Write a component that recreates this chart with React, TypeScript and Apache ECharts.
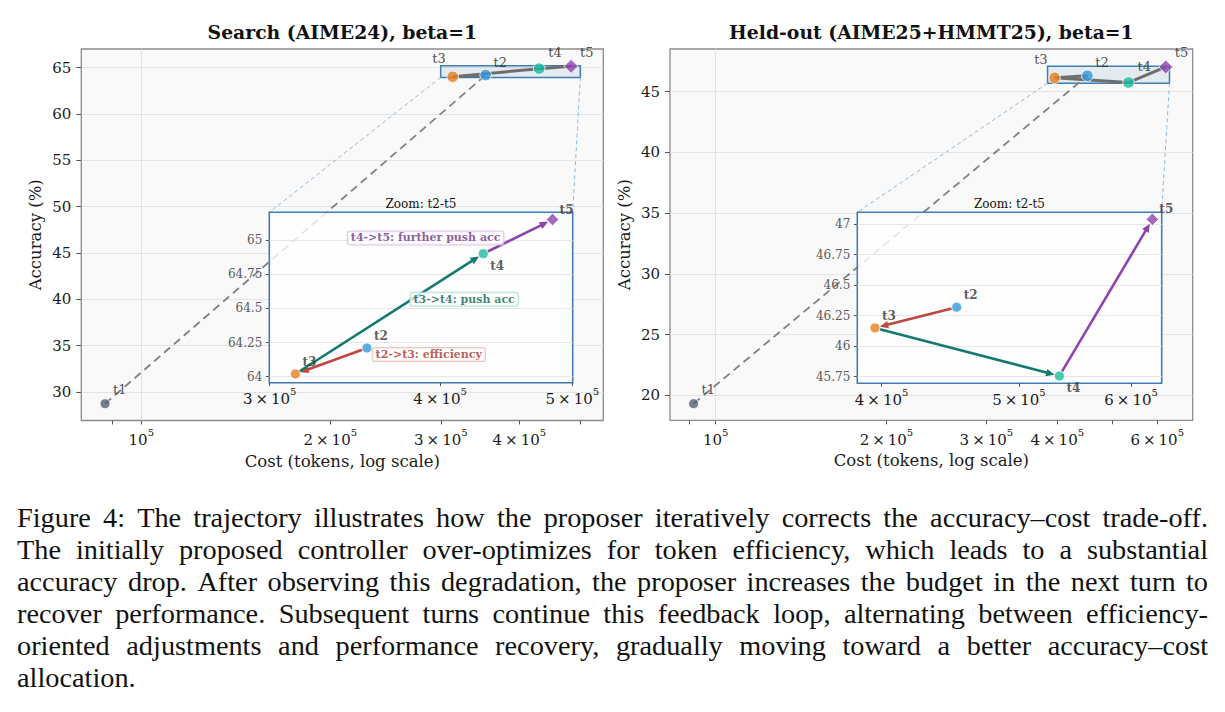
import { useEffect, useRef } from "react";
import * as echarts from "echarts";

const SERIF = "'DejaVu Serif', serif";
const CAPTION_SERIF = "'Liberation Serif', 'Times New Roman', serif";

// Trajectory steps and their marker colours
const STEPS = ["t1", "t2", "t3", "t4", "t5"];
const STEP_COLORS = ["#566173", "#3498db", "#e67e22", "#1abc9c", "#8e44ad"];

// Search split (AIME24): cost in tokens, accuracy in %
const SEARCH_COST = [87550, 353500, 313300, 430200, 483600];
const SEARCH_ACC = [28.74, 64.21, 64.02, 64.9, 65.15];

// Held-out split (AIME25+HMMT25)
const HELDOUT_COST = [91460, 451900, 395700, 534000, 621100];
const HELDOUT_ACC = [19.31, 46.32, 46.15, 45.756, 47.04];

// Main axes: limits and ticks
const SEARCH_COST_LIMITS = [80250, 544300];
const SEARCH_ACC_LIMITS = [26.93, 67.02];
const SEARCH_COST_TICKS = [90000, 100000, 200000, 300000, 400000, 500000];
const SEARCH_COST_TICK_LABELS = [100000, 200000, 300000, 400000];
const SEARCH_ACC_TICKS = [30, 35, 40, 45, 50, 55, 60, 65];

const HELDOUT_COST_LIMITS = [83100, 692900];
const HELDOUT_ACC_LIMITS = [17.94, 48.52];
const HELDOUT_COST_TICKS = [90000, 100000, 200000, 300000, 400000, 500000, 600000];
const HELDOUT_COST_TICK_LABELS = [100000, 200000, 300000, 400000, 600000];
const HELDOUT_ACC_TICKS = [20, 25, 30, 35, 40, 45];

// Zoom window t2-t5
const SEARCH_ZOOM_COST_LIMITS = [299800, 500300];
const SEARCH_ZOOM_ACC_LIMITS = [63.956, 65.203];
const SEARCH_ZOOM_COST_TICKS = [300000, 400000, 500000];
const SEARCH_ZOOM_ACC_TICKS = [64, 64.25, 64.5, 64.75, 65];

const HELDOUT_ZOOM_COST_LIMITS = [384500, 630600];
const HELDOUT_ZOOM_ACC_LIMITS = [45.696, 47.098];
const HELDOUT_ZOOM_COST_TICKS = [400000, 500000, 600000];
const HELDOUT_ZOOM_ACC_TICKS = [45.75, 46, 46.25, 46.5, 46.75, 47];

// Transitions drawn as arrows in the zoom window (from step, to step)
const MOVES = [[1, 2], [2, 3], [3, 4]];
const MOVE_COLORS = ["#c0473d", "#157a6e", "#8e44ad"];
const MOVE_NOTES = ["t2->t3: efficiency", "t3->t4: push acc", "t4->t5: further push acc"];
const MOVE_NOTE_COLORS = ["#a93226", "#0e6655", "#6c3483"];
const MOVE_NOTE_EDGES = ["#e8b4ae", "#a9d8cf", "#d4b8e0"];
// note anchors on the Search zoom window (cost, accuracy)
const SEARCH_NOTE_COST = [392400, 416500, 390300];
const SEARCH_NOTE_ACC = [64.163, 64.566, 65.015];

const CAPTION_LINES = [
  "Figure 4: The trajectory illustrates how the proposer iteratively corrects the accuracy\u2013cost trade-off.",
  "The initially proposed controller over-optimizes for token efficiency, which leads to a substantial",
  "accuracy drop. After observing this degradation, the proposer increases the budget in the next turn to",
  "recover performance. Subsequent turns continue this feedback loop, alternating between efficiency-",
  "oriented adjustments and performance recovery, gradually moving toward a better accuracy\u2013cost",
  "allocation.",
];

const PANELS = [
  {
    title: "Search (AIME24), beta=1",
    cost: SEARCH_COST, acc: SEARCH_ACC,
    costLimits: SEARCH_COST_LIMITS, accLimits: SEARCH_ACC_LIMITS,
    costTicks: SEARCH_COST_TICKS, costTickLabels: SEARCH_COST_TICK_LABELS, accTicks: SEARCH_ACC_TICKS,
    zoomCostLimits: SEARCH_ZOOM_COST_LIMITS, zoomAccLimits: SEARCH_ZOOM_ACC_LIMITS,
    zoomCostTicks: SEARCH_ZOOM_COST_TICKS, zoomAccTicks: SEARCH_ZOOM_ACC_TICKS,
    notes: true,
    main: { left: 81.3, top: 49, width: 522, height: 371.5 },
    zoom: { left: 269.3, top: 212.3, width: 303.4, height: 170.4 },
  },
  {
    title: "Held-out (AIME25+HMMT25), beta=1",
    cost: HELDOUT_COST, acc: HELDOUT_ACC,
    costLimits: HELDOUT_COST_LIMITS, accLimits: HELDOUT_ACC_LIMITS,
    costTicks: HELDOUT_COST_TICKS, costTickLabels: HELDOUT_COST_TICK_LABELS, accTicks: HELDOUT_ACC_TICKS,
    zoomCostLimits: HELDOUT_ZOOM_COST_LIMITS, zoomAccLimits: HELDOUT_ZOOM_ACC_LIMITS,
    zoomCostTicks: HELDOUT_ZOOM_COST_TICKS, zoomAccTicks: HELDOUT_ZOOM_ACC_TICKS,
    notes: false,
    main: { left: 670, top: 49, width: 522.7, height: 371.3 },
    zoom: { left: 857.3, top: 212.3, width: 304.4, height: 171 },
  },
];

// label placement of the step names (offset from the marker centre)
const MAIN_LABEL_PLACE: [string, number[]][] = [
  ["left", [8, -14]],
  ["left", [8, -13]],
  ["right", [-7, -18]],
  ["left", [9, -16]],
  ["left", [9, -14]],
];
const ZOOM_LABEL_PLACE: number[][] = [[7, -12], [7, -12], [7, -12], [7, 12], [7, -10]];

const lg = (v: number) => Math.log10(v);

function costLabel(v: number) {
  const exp = Math.floor(v + 1e-6);
  const m = Math.round(Math.pow(10, v - exp));
  return m === 1 ? `{b|10}{s|${exp}}` : `{b|${m}\u2009\u00d7\u200910}{s|${exp}}`;
}

const supRich = {
  b: { fontFamily: SERIF, fontSize: 15, color: "#1a1a1a", lineHeight: 20, verticalAlign: "bottom" },
  s: { fontFamily: SERIF, fontSize: 10, color: "#1a1a1a", lineHeight: 14, verticalAlign: "top" },
};

function renderArrow(params: any, api: any) {
  const a = api.coord([api.value(0), api.value(1)]);
  const b = api.coord([api.value(2), api.value(3)]);
  const color = api.visual("color");
  const dx = b[0] - a[0];
  const dy = b[1] - a[1];
  const len = Math.hypot(dx, dy) || 1;
  const ux = dx / len;
  const uy = dy / len;
  const shrinkA = 5, shrinkB = 5, head = 8.5, half = 3.8;
  const p0 = [a[0] + ux * shrinkA, a[1] + uy * shrinkA];
  const tip = [b[0] - ux * shrinkB, b[1] - uy * shrinkB];
  const base = [tip[0] - ux * head, tip[1] - uy * head];
  return {
    type: "group",
    children: [
      {
        type: "line",
        shape: { x1: p0[0], y1: p0[1], x2: base[0] + ux, y2: base[1] + uy },
        style: { stroke: color, lineWidth: 2.6 },
      },
      {
        type: "polygon",
        shape: {
          points: [
            tip,
            [base[0] - uy * half, base[1] + ux * half],
            [base[0] + uy * half, base[1] - ux * half],
          ],
        },
        style: { fill: color },
      },
    ],
  };
}

function buildOption() {
  const grid: any[] = [];
  const xAxis: any[] = [];
  const yAxis: any[] = [];
  const series: any[] = [];
  const hosts: { main: number; zoom: number }[] = [];

  PANELS.forEach((p) => {
    const gm = grid.length;
    const gz = gm + 1;
    grid.push({ ...p.main, show: true, backgroundColor: "#f9f9f9", borderColor: "#8c8c8c", borderWidth: 1.3, outerBoundsMode: "none" });
    grid.push({ ...p.zoom, show: false, outerBoundsMode: "none" });

    // main axes
    xAxis.push({
      type: "value", gridIndex: gm, min: lg(p.costLimits[0]), max: lg(p.costLimits[1]),
      name: "Cost (tokens, log scale)", nameLocation: "middle", nameGap: 32,
      nameTextStyle: { fontFamily: SERIF, fontSize: 16.5, color: "#1a1a1a" },
      axisLine: { show: false }, splitLine: { show: false },
      axisTick: { show: true, length: 4, lineStyle: { color: "#555", width: 1 }, customValues: p.costTicks.map(lg) },
      axisLabel: { margin: 7, formatter: costLabel, rich: supRich, customValues: p.costTickLabels.map(lg), showMinLabel: true, showMaxLabel: true },
      z: 0,
    });
    yAxis.push({
      type: "value", gridIndex: gm, min: p.accLimits[0], max: p.accLimits[1],
      name: "Accuracy (%)", nameLocation: "middle", nameGap: 37, nameRotate: 90,
      nameTextStyle: { fontFamily: SERIF, fontSize: 16.5, color: "#1a1a1a" },
      axisLine: { show: false },
      axisTick: { show: true, length: 5, lineStyle: { color: "#555", width: 1 }, customValues: p.accTicks },
      axisLabel: { margin: 10, fontFamily: SERIF, fontSize: 15, color: "#1a1a1a", customValues: p.accTicks, showMinLabel: true, showMaxLabel: true },
      splitLine: { show: true, lineStyle: { color: "#e4e4e4", width: 1 } },
      z: 0,
    });

    // zoom axes
    xAxis.push({
      type: "value", gridIndex: gz, min: lg(p.zoomCostLimits[0]), max: lg(p.zoomCostLimits[1]),
      axisLine: { show: false }, splitLine: { show: false },
      axisTick: { show: true, length: 3.5, lineStyle: { color: "#555", width: 1 }, customValues: p.zoomCostTicks.map(lg) },
      axisLabel: { margin: 4, formatter: costLabel, rich: supRich, customValues: p.zoomCostTicks.map(lg), showMinLabel: true, showMaxLabel: true },
      z: 4,
    });
    yAxis.push({
      type: "value", gridIndex: gz, min: p.zoomAccLimits[0], max: p.zoomAccLimits[1],
      axisLine: { show: false },
      axisTick: { show: true, length: 3.5, lineStyle: { color: "#555", width: 1 }, customValues: p.zoomAccTicks },
      axisLabel: { margin: 7, fontFamily: SERIF, fontSize: 12, color: "#5a5a5a", customValues: p.zoomAccTicks, showMinLabel: true, showMaxLabel: true },
      splitLine: { show: true, lineStyle: { color: "#e6e6e6", width: 1 } },
      z: 4,
    });

    const zx0 = lg(p.zoomCostLimits[0]);
    const zx1 = lg(p.zoomCostLimits[1]);
    const zy0 = p.zoomAccLimits[0];
    const zy1 = p.zoomAccLimits[1];

    // main: 10^5 gridline and the outline of the zoomed region
    const hostMain = series.length;
    series.push({
      type: "line", xAxisIndex: gm, yAxisIndex: gm, data: [], silent: true, z: 1,
      markLine: {
        silent: true, symbol: ["none", "none"], z: 1, label: { show: false },
        lineStyle: { color: "#e2e2e2", width: 1, type: "solid" },
        data: [{ xAxis: 5 }],
      },
      markArea: {
        silent: true, z: 1,
        itemStyle: { color: "rgba(70,130,180,0.12)", borderColor: "#3f7db3", borderWidth: 1.5 },
        data: [[{ xAxis: zx0, yAxis: zy0 }, { xAxis: zx1, yAxis: zy1 }]],
      },
    });

    // t1 -> t2 jump (dashed) and t2 .. t5 path (solid)
    series.push({
      type: "line", xAxisIndex: gm, yAxisIndex: gm, silent: true, z: 2, symbol: "none",
      data: p.cost.slice(0, 2).map((c, k) => [lg(c), p.acc[k]]),
      lineStyle: { color: "#828282", width: 1.8, type: [8, 5] },
    });
    series.push({
      type: "line", xAxisIndex: gm, yAxisIndex: gm, silent: true, z: 2, symbol: "none",
      data: p.cost.slice(1).map((c, k) => [lg(c), p.acc[k + 1]]),
      lineStyle: { color: "#6e6e6e", width: 3 },
    });
    series.push({
      type: "scatter", xAxisIndex: gm, yAxisIndex: gm, silent: true, z: 2,
      data: STEPS.map((s, k) => ({
        name: s,
        value: [lg(p.cost[k]), p.acc[k]],
        symbol: k === 4 ? "diamond" : "circle",
        symbolSize: k === 4 ? 14 : k === 0 ? 10 : 11.5,
        itemStyle: { color: STEP_COLORS[k], borderColor: "#ffffff", borderWidth: 1 },
        label: {
          show: true, position: "inside", formatter: "{b}",
          align: MAIN_LABEL_PLACE[k][0], verticalAlign: "middle", offset: MAIN_LABEL_PLACE[k][1],
          fontFamily: SERIF, fontSize: 13, color: "#222",
        },
      })),
    });

    // zoom window panel
    const hostZoom = series.length;
    series.push({
      type: "line", xAxisIndex: gz, yAxisIndex: gz, data: [], silent: true, z: 3,
      markArea: {
        silent: true, z: 3,
        itemStyle: { color: "rgba(255,255,255,0.8)", borderColor: "#3f7db3", borderWidth: 1.6 },
        data: [[{ xAxis: zx0, yAxis: zy0 }, { xAxis: zx1, yAxis: zy1 }]],
      },
    });

    // transitions
    series.push({
      type: "custom", xAxisIndex: gz, yAxisIndex: gz, silent: true, z: 5,
      encode: { x: [0, 2], y: [1, 3] },
      renderItem: renderArrow,
      data: MOVES.map(([f, t], k) => ({
        value: [lg(p.cost[f]), p.acc[f], lg(p.cost[t]), p.acc[t]],
        itemStyle: { color: MOVE_COLORS[k] },
      })),
    });

    series.push({
      type: "scatter", xAxisIndex: gz, yAxisIndex: gz, silent: true, z: 6,
      data: STEPS.map((s, k) => ({ s, k })).slice(1).map(({ s, k }) => ({
        name: s,
        value: [lg(p.cost[k]), p.acc[k]],
        symbol: k === 4 ? "diamond" : "circle",
        symbolSize: k === 4 ? 12.5 : 10,
        itemStyle: { color: STEP_COLORS[k], borderColor: "#ffffff", borderWidth: 1 },
        label: {
          show: true, position: "inside", formatter: "{b}",
          align: "left", verticalAlign: "middle", offset: ZOOM_LABEL_PLACE[k],
          fontFamily: SERIF, fontSize: 12, fontWeight: "bold", color: "#333",
        },
      })),
    });

    if (p.notes) {
      series.push({
        type: "scatter", xAxisIndex: gz, yAxisIndex: gz, silent: true, z: 7,
        symbolSize: 1,
        itemStyle: { color: "rgba(0,0,0,0)" },
        data: MOVE_NOTES.map((n, k) => ({
          name: n,
          value: [lg(SEARCH_NOTE_COST[k]), SEARCH_NOTE_ACC[k]],
          label: {
            show: true, position: "inside", formatter: "{b}",
            align: "center", verticalAlign: "middle",
            fontFamily: SERIF, fontSize: 11, fontWeight: "bold", color: MOVE_NOTE_COLORS[k],
            lineHeight: 12, padding: [1, 3, 0, 3],
            backgroundColor: "rgba(255,255,255,0.9)", borderColor: MOVE_NOTE_EDGES[k], borderWidth: 1, borderRadius: 2,
          },
        })),
      });
    }

    hosts.push({ main: hostMain, zoom: hostZoom });
  });

  return {
    option: {
      animation: false,
      backgroundColor: "#ffffff",
      textStyle: { fontFamily: SERIF },
      grid, xAxis, yAxis, series,
    },
    hosts,
  };
}

function captionGraphics() {
  const left = 17;
  const right = 1208;
  const top = 517;
  const lead = 32;
  const size = 28.3;
  const ctx = document.createElement("canvas").getContext("2d")!;
  ctx.font = `${size}px ${CAPTION_SERIF}`;
  const out: any[] = [];
  CAPTION_LINES.forEach((line, i) => {
    const words = line.split(" ");
    const widths = words.map((w) => ctx.measureText(w).width);
    const total = widths.reduce((s, w) => s + w, 0);
    const last = i === CAPTION_LINES.length - 1;
    const gap = last || words.length < 2 ? ctx.measureText(" ").width : (right - left - total) / (words.length - 1);
    let x = left;
    words.forEach((w, j) => {
      out.push({
        type: "text", x, y: top + i * lead, z: 10, silent: true,
        style: { text: w, fontFamily: CAPTION_SERIF, fontSize: size, fill: "#111", align: "left", verticalAlign: "middle" },
      });
      x += widths[j] + gap;
    });
  });
  return out;
}

export default function App() {
  const ref = useRef<HTMLDivElement>(null);

  useEffect(() => {
    const chart = echarts.init(ref.current!, null, { renderer: "svg" });
    const { option, hosts } = buildOption();
    chart.setOption(option);

    const graphics: any[] = [];
    PANELS.forEach((p, i) => {
      graphics.push({
        type: "text", x: p.main.left + p.main.width / 2, y: 31.5, z: 10, silent: true,
        style: { text: p.title, fontFamily: SERIF, fontSize: 18.8, fontWeight: "bold", fill: "#111", align: "center", verticalAlign: "middle" },
      });
      const zx0 = lg(p.zoomCostLimits[0]);
      const zx1 = lg(p.zoomCostLimits[1]);
      const mainBL = chart.convertToPixel({ seriesIndex: hosts[i].main }, [zx0, p.zoomAccLimits[0]]) as number[];
      const mainBR = chart.convertToPixel({ seriesIndex: hosts[i].main }, [zx1, p.zoomAccLimits[0]]) as number[];
      const zoomTL = chart.convertToPixel({ seriesIndex: hosts[i].zoom }, [zx0, p.zoomAccLimits[1]]) as number[];
      const zoomTR = chart.convertToPixel({ seriesIndex: hosts[i].zoom }, [zx1, p.zoomAccLimits[1]]) as number[];
      [[mainBL, zoomTL], [mainBR, zoomTR]].forEach(([a, b]) => {
        graphics.push({
          type: "line", z: 1, silent: true,
          shape: { x1: a[0], y1: a[1], x2: b[0], y2: b[1] },
          style: { stroke: "#93b9d9", lineWidth: 1, lineDash: [4, 3] },
        });
      });
      graphics.push({
        type: "text", x: (zoomTL[0] + zoomTR[0]) / 2, y: zoomTL[1] - 8, z: 10, silent: true,
        style: { text: "Zoom: t2-t5", fontFamily: SERIF, fontSize: 12, fill: "#111", align: "center", verticalAlign: "middle" },
      });
    });
    graphics.push(...captionGraphics());
    chart.setOption({ graphic: graphics });

    return () => chart.dispose();
  }, []);

  return (
    <div
      ref={ref}
      style={{ position: "fixed", left: 0, top: 0, width: 1225, height: 712, background: "#ffffff" }}
    />
  );
}
